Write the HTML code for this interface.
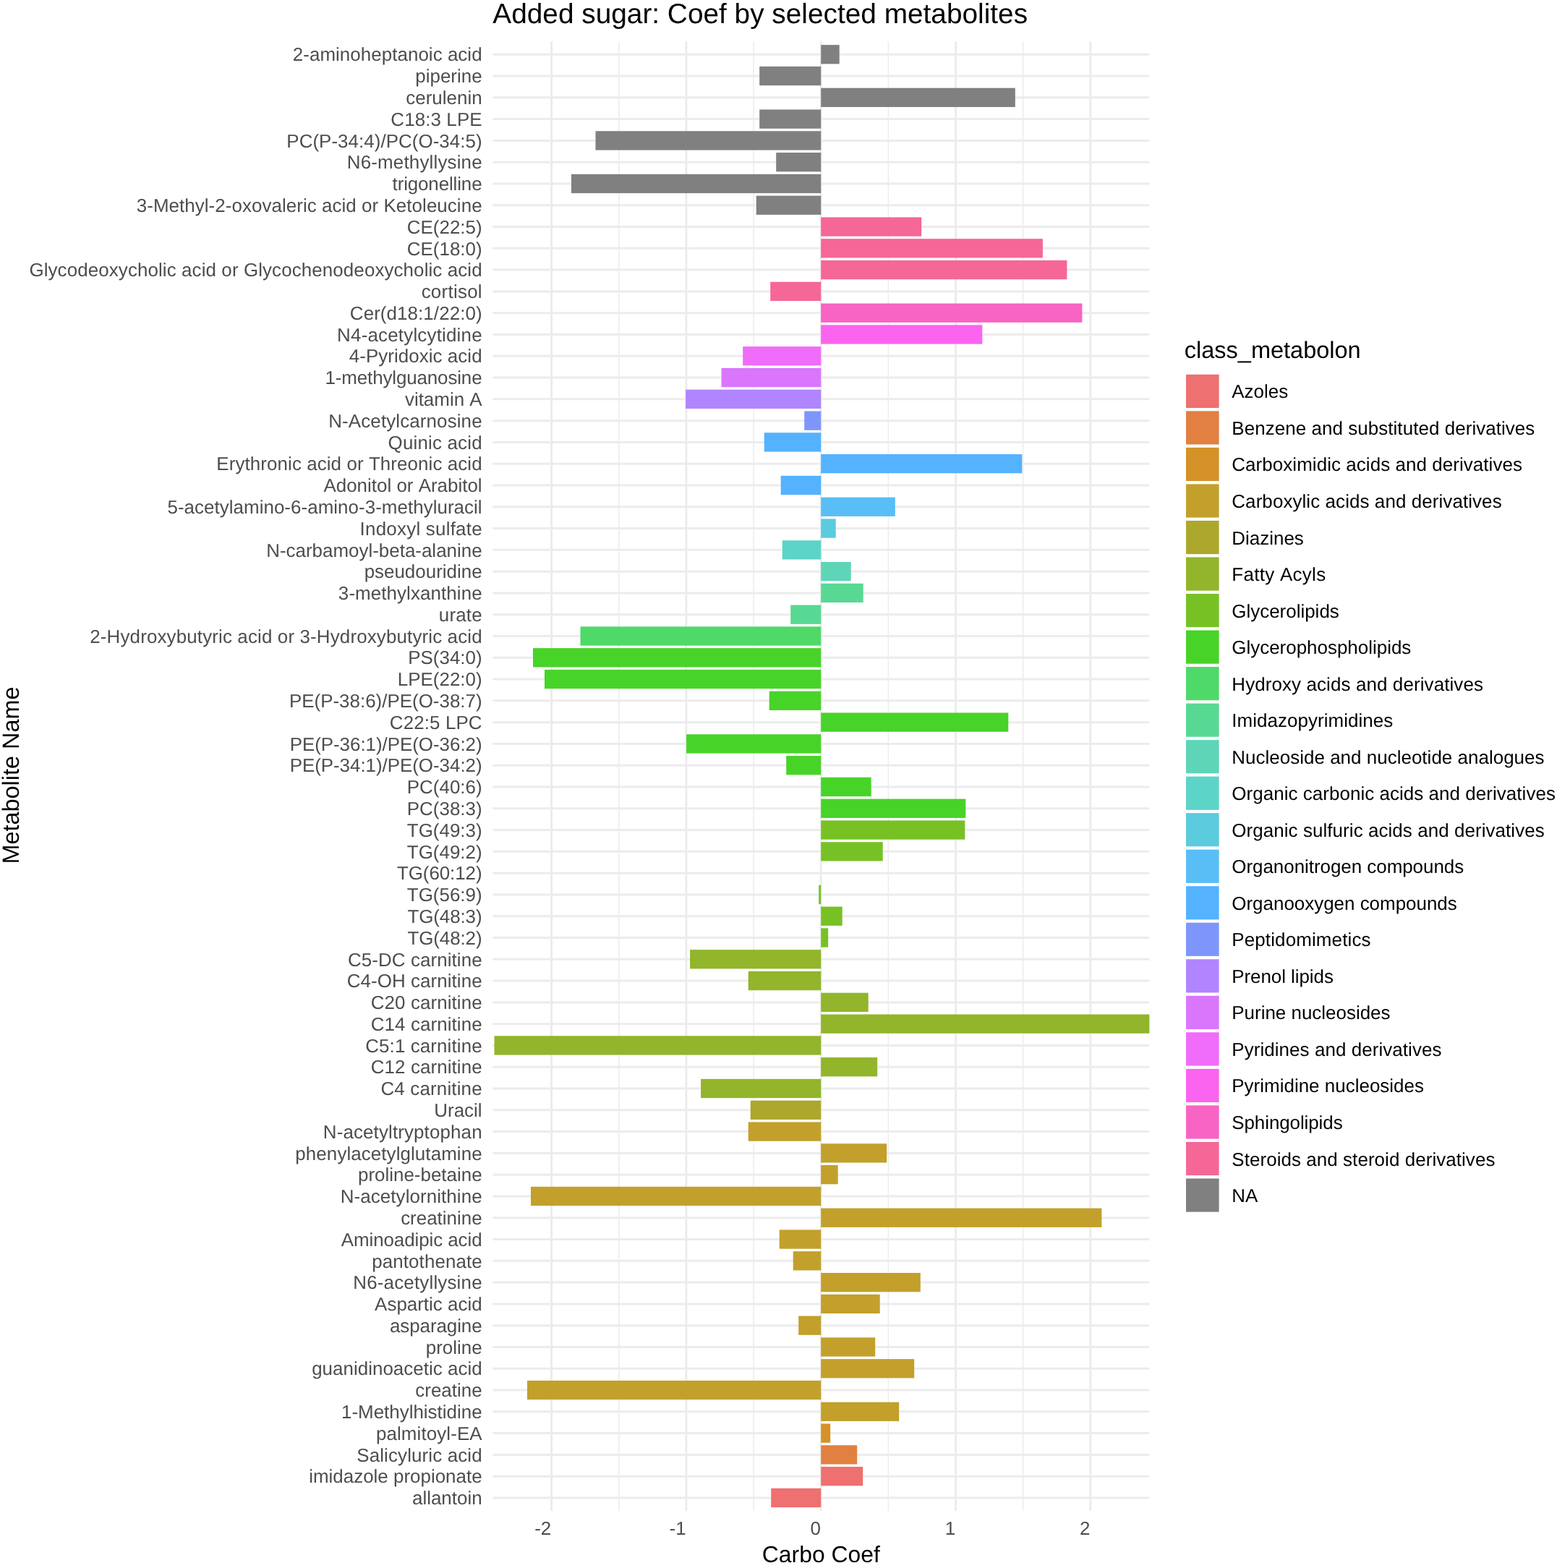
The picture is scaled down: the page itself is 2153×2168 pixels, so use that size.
<!DOCTYPE html>
<html lang="en"><head><meta charset="utf-8"><title>Added sugar: Coef by selected metabolites</title>
<style>html,body{margin:0;padding:0;background:#fff;width:2153px;height:2168px;overflow:hidden}svg{display:block}text{font-family:"Liberation Sans",Arial,Helvetica,sans-serif;font-kerning:none;text-rendering:geometricPrecision}.yl{font-size:25.95px;fill:#4D4D4D;text-anchor:end}.xl{font-size:25.95px;fill:#4D4D4D;text-anchor:end}.lg{font-size:25.95px;fill:#000}.at{font-size:32.3px;fill:#000;text-anchor:middle}.lt{font-size:32.3px;fill:#000}.tt{font-size:38.8px;fill:#000}</style></head><body>
<svg width="2153" height="2168" viewBox="0 0 2153 2168">
<rect width="2153" height="2168" fill="#fff"/>
<g stroke="#ECECEC" fill="none"><line x1="855.75" x2="855.75" y1="57.5" y2="2088.9" stroke-width="1.5"/><line x1="1042.05" x2="1042.05" y1="57.5" y2="2088.9" stroke-width="1.5"/><line x1="1228.35" x2="1228.35" y1="57.5" y2="2088.9" stroke-width="1.5"/><line x1="1414.65" x2="1414.65" y1="57.5" y2="2088.9" stroke-width="1.5"/><line x1="762.60" x2="762.60" y1="57.5" y2="2088.9" stroke-width="3.0"/><line x1="948.90" x2="948.90" y1="57.5" y2="2088.9" stroke-width="3.0"/><line x1="1135.20" x2="1135.20" y1="57.5" y2="2088.9" stroke-width="3.0"/><line x1="1321.50" x2="1321.50" y1="57.5" y2="2088.9" stroke-width="3.0"/><line x1="1507.80" x2="1507.80" y1="57.5" y2="2088.9" stroke-width="3.0"/><line x1="681.25" x2="1589.4" y1="75.25" y2="75.25" stroke-width="3.0"/><line x1="681.25" x2="1589.4" y1="105.04" y2="105.04" stroke-width="3.0"/><line x1="681.25" x2="1589.4" y1="134.82" y2="134.82" stroke-width="3.0"/><line x1="681.25" x2="1589.4" y1="164.61" y2="164.61" stroke-width="3.0"/><line x1="681.25" x2="1589.4" y1="194.40" y2="194.40" stroke-width="3.0"/><line x1="681.25" x2="1589.4" y1="224.19" y2="224.19" stroke-width="3.0"/><line x1="681.25" x2="1589.4" y1="253.97" y2="253.97" stroke-width="3.0"/><line x1="681.25" x2="1589.4" y1="283.76" y2="283.76" stroke-width="3.0"/><line x1="681.25" x2="1589.4" y1="313.55" y2="313.55" stroke-width="3.0"/><line x1="681.25" x2="1589.4" y1="343.33" y2="343.33" stroke-width="3.0"/><line x1="681.25" x2="1589.4" y1="373.12" y2="373.12" stroke-width="3.0"/><line x1="681.25" x2="1589.4" y1="402.91" y2="402.91" stroke-width="3.0"/><line x1="681.25" x2="1589.4" y1="432.69" y2="432.69" stroke-width="3.0"/><line x1="681.25" x2="1589.4" y1="462.48" y2="462.48" stroke-width="3.0"/><line x1="681.25" x2="1589.4" y1="492.27" y2="492.27" stroke-width="3.0"/><line x1="681.25" x2="1589.4" y1="522.06" y2="522.06" stroke-width="3.0"/><line x1="681.25" x2="1589.4" y1="551.84" y2="551.84" stroke-width="3.0"/><line x1="681.25" x2="1589.4" y1="581.63" y2="581.63" stroke-width="3.0"/><line x1="681.25" x2="1589.4" y1="611.42" y2="611.42" stroke-width="3.0"/><line x1="681.25" x2="1589.4" y1="641.20" y2="641.20" stroke-width="3.0"/><line x1="681.25" x2="1589.4" y1="670.99" y2="670.99" stroke-width="3.0"/><line x1="681.25" x2="1589.4" y1="700.78" y2="700.78" stroke-width="3.0"/><line x1="681.25" x2="1589.4" y1="730.56" y2="730.56" stroke-width="3.0"/><line x1="681.25" x2="1589.4" y1="760.35" y2="760.35" stroke-width="3.0"/><line x1="681.25" x2="1589.4" y1="790.14" y2="790.14" stroke-width="3.0"/><line x1="681.25" x2="1589.4" y1="819.92" y2="819.92" stroke-width="3.0"/><line x1="681.25" x2="1589.4" y1="849.71" y2="849.71" stroke-width="3.0"/><line x1="681.25" x2="1589.4" y1="879.50" y2="879.50" stroke-width="3.0"/><line x1="681.25" x2="1589.4" y1="909.29" y2="909.29" stroke-width="3.0"/><line x1="681.25" x2="1589.4" y1="939.07" y2="939.07" stroke-width="3.0"/><line x1="681.25" x2="1589.4" y1="968.86" y2="968.86" stroke-width="3.0"/><line x1="681.25" x2="1589.4" y1="998.65" y2="998.65" stroke-width="3.0"/><line x1="681.25" x2="1589.4" y1="1028.43" y2="1028.43" stroke-width="3.0"/><line x1="681.25" x2="1589.4" y1="1058.22" y2="1058.22" stroke-width="3.0"/><line x1="681.25" x2="1589.4" y1="1088.01" y2="1088.01" stroke-width="3.0"/><line x1="681.25" x2="1589.4" y1="1117.80" y2="1117.80" stroke-width="3.0"/><line x1="681.25" x2="1589.4" y1="1147.58" y2="1147.58" stroke-width="3.0"/><line x1="681.25" x2="1589.4" y1="1177.37" y2="1177.37" stroke-width="3.0"/><line x1="681.25" x2="1589.4" y1="1207.16" y2="1207.16" stroke-width="3.0"/><line x1="681.25" x2="1589.4" y1="1236.94" y2="1236.94" stroke-width="3.0"/><line x1="681.25" x2="1589.4" y1="1266.73" y2="1266.73" stroke-width="3.0"/><line x1="681.25" x2="1589.4" y1="1296.52" y2="1296.52" stroke-width="3.0"/><line x1="681.25" x2="1589.4" y1="1326.30" y2="1326.30" stroke-width="3.0"/><line x1="681.25" x2="1589.4" y1="1356.09" y2="1356.09" stroke-width="3.0"/><line x1="681.25" x2="1589.4" y1="1385.88" y2="1385.88" stroke-width="3.0"/><line x1="681.25" x2="1589.4" y1="1415.66" y2="1415.66" stroke-width="3.0"/><line x1="681.25" x2="1589.4" y1="1445.45" y2="1445.45" stroke-width="3.0"/><line x1="681.25" x2="1589.4" y1="1475.24" y2="1475.24" stroke-width="3.0"/><line x1="681.25" x2="1589.4" y1="1505.03" y2="1505.03" stroke-width="3.0"/><line x1="681.25" x2="1589.4" y1="1534.81" y2="1534.81" stroke-width="3.0"/><line x1="681.25" x2="1589.4" y1="1564.60" y2="1564.60" stroke-width="3.0"/><line x1="681.25" x2="1589.4" y1="1594.39" y2="1594.39" stroke-width="3.0"/><line x1="681.25" x2="1589.4" y1="1624.17" y2="1624.17" stroke-width="3.0"/><line x1="681.25" x2="1589.4" y1="1653.96" y2="1653.96" stroke-width="3.0"/><line x1="681.25" x2="1589.4" y1="1683.75" y2="1683.75" stroke-width="3.0"/><line x1="681.25" x2="1589.4" y1="1713.53" y2="1713.53" stroke-width="3.0"/><line x1="681.25" x2="1589.4" y1="1743.32" y2="1743.32" stroke-width="3.0"/><line x1="681.25" x2="1589.4" y1="1773.11" y2="1773.11" stroke-width="3.0"/><line x1="681.25" x2="1589.4" y1="1802.90" y2="1802.90" stroke-width="3.0"/><line x1="681.25" x2="1589.4" y1="1832.68" y2="1832.68" stroke-width="3.0"/><line x1="681.25" x2="1589.4" y1="1862.47" y2="1862.47" stroke-width="3.0"/><line x1="681.25" x2="1589.4" y1="1892.26" y2="1892.26" stroke-width="3.0"/><line x1="681.25" x2="1589.4" y1="1922.04" y2="1922.04" stroke-width="3.0"/><line x1="681.25" x2="1589.4" y1="1951.83" y2="1951.83" stroke-width="3.0"/><line x1="681.25" x2="1589.4" y1="1981.62" y2="1981.62" stroke-width="3.0"/><line x1="681.25" x2="1589.4" y1="2011.40" y2="2011.40" stroke-width="3.0"/><line x1="681.25" x2="1589.4" y1="2041.19" y2="2041.19" stroke-width="3.0"/><line x1="681.25" x2="1589.4" y1="2070.98" y2="2070.98" stroke-width="3.0"/></g>
<g><rect x="1135.20" y="62.10" width="25.50" height="26.3" fill="#808080"/><rect x="1050.20" y="91.89" width="85.00" height="26.3" fill="#808080"/><rect x="1135.20" y="121.67" width="268.60" height="26.3" fill="#808080"/><rect x="1050.20" y="151.46" width="85.00" height="26.3" fill="#808080"/><rect x="823.50" y="181.25" width="311.70" height="26.3" fill="#808080"/><rect x="1073.20" y="211.03" width="62.00" height="26.3" fill="#808080"/><rect x="790.00" y="240.82" width="345.20" height="26.3" fill="#808080"/><rect x="1045.70" y="270.61" width="89.50" height="26.3" fill="#808080"/><rect x="1135.20" y="300.40" width="139.00" height="26.3" fill="#F56796"/><rect x="1135.20" y="330.18" width="306.70" height="26.3" fill="#F56796"/><rect x="1135.20" y="359.97" width="340.20" height="26.3" fill="#F56796"/><rect x="1065.20" y="389.76" width="70.00" height="26.3" fill="#F56796"/><rect x="1135.20" y="419.54" width="361.20" height="26.3" fill="#F864C3"/><rect x="1135.20" y="449.33" width="223.10" height="26.3" fill="#FA64EE"/><rect x="1027.20" y="479.12" width="108.00" height="26.3" fill="#F06CFA"/><rect x="997.60" y="508.91" width="137.60" height="26.3" fill="#D976FC"/><rect x="948.10" y="538.69" width="187.10" height="26.3" fill="#B085FF"/><rect x="1112.20" y="568.48" width="23.00" height="26.3" fill="#7E96FC"/><rect x="1056.70" y="598.27" width="78.50" height="26.3" fill="#54B2FF"/><rect x="1135.20" y="628.05" width="278.10" height="26.3" fill="#54B2FF"/><rect x="1079.70" y="657.84" width="55.50" height="26.3" fill="#54B2FF"/><rect x="1135.20" y="687.63" width="102.60" height="26.3" fill="#58BEF5"/><rect x="1135.20" y="717.41" width="20.50" height="26.3" fill="#5BCBDE"/><rect x="1081.70" y="747.20" width="53.50" height="26.3" fill="#5DD4C8"/><rect x="1135.20" y="776.99" width="41.50" height="26.3" fill="#5FD5B8"/><rect x="1135.20" y="806.77" width="58.50" height="26.3" fill="#58D993"/><rect x="1093.20" y="836.56" width="42.00" height="26.3" fill="#58D993"/><rect x="802.50" y="866.35" width="332.70" height="26.3" fill="#4FD968"/><rect x="737.00" y="896.14" width="398.20" height="26.3" fill="#48D329"/><rect x="753.00" y="925.92" width="382.20" height="26.3" fill="#48D329"/><rect x="1063.70" y="955.71" width="71.50" height="26.3" fill="#48D329"/><rect x="1135.20" y="985.50" width="259.10" height="26.3" fill="#48D329"/><rect x="949.10" y="1015.28" width="186.10" height="26.3" fill="#48D329"/><rect x="1087.20" y="1045.07" width="48.00" height="26.3" fill="#48D329"/><rect x="1135.20" y="1074.86" width="69.50" height="26.3" fill="#48D329"/><rect x="1135.20" y="1104.64" width="200.10" height="26.3" fill="#48D329"/><rect x="1135.20" y="1134.43" width="199.10" height="26.3" fill="#77C125"/><rect x="1135.20" y="1164.22" width="85.50" height="26.3" fill="#77C125"/><rect x="1132.20" y="1223.79" width="3.00" height="26.3" fill="#77C125"/><rect x="1135.20" y="1253.58" width="29.50" height="26.3" fill="#77C125"/><rect x="1135.20" y="1283.37" width="10.00" height="26.3" fill="#77C125"/><rect x="954.10" y="1313.15" width="181.10" height="26.3" fill="#92B52C"/><rect x="1034.70" y="1342.94" width="100.50" height="26.3" fill="#92B52C"/><rect x="1135.20" y="1372.73" width="65.50" height="26.3" fill="#92B52C"/><rect x="1135.20" y="1402.51" width="454.20" height="26.3" fill="#92B52C"/><rect x="683.50" y="1432.30" width="451.70" height="26.3" fill="#92B52C"/><rect x="1135.20" y="1462.09" width="78.00" height="26.3" fill="#92B52C"/><rect x="969.10" y="1491.88" width="166.10" height="26.3" fill="#92B52C"/><rect x="1037.70" y="1521.66" width="97.50" height="26.3" fill="#ACA82D"/><rect x="1034.70" y="1551.45" width="100.50" height="26.3" fill="#C2A02B"/><rect x="1135.20" y="1581.24" width="91.00" height="26.3" fill="#C2A02B"/><rect x="1135.20" y="1611.02" width="23.50" height="26.3" fill="#C2A02B"/><rect x="734.00" y="1640.81" width="401.20" height="26.3" fill="#C2A02B"/><rect x="1135.20" y="1670.60" width="388.20" height="26.3" fill="#C2A02B"/><rect x="1077.70" y="1700.38" width="57.50" height="26.3" fill="#C2A02B"/><rect x="1096.70" y="1730.17" width="38.50" height="26.3" fill="#C2A02B"/><rect x="1135.20" y="1759.96" width="137.60" height="26.3" fill="#C2A02B"/><rect x="1135.20" y="1789.75" width="81.50" height="26.3" fill="#C2A02B"/><rect x="1104.20" y="1819.53" width="31.00" height="26.3" fill="#C2A02B"/><rect x="1135.20" y="1849.32" width="75.00" height="26.3" fill="#C2A02B"/><rect x="1135.20" y="1879.11" width="129.00" height="26.3" fill="#C2A02B"/><rect x="729.00" y="1908.89" width="406.20" height="26.3" fill="#C2A02B"/><rect x="1135.20" y="1938.68" width="108.00" height="26.3" fill="#C2A02B"/><rect x="1135.20" y="1968.47" width="13.00" height="26.3" fill="#D49228"/><rect x="1135.20" y="1998.25" width="50.00" height="26.3" fill="#E28042"/><rect x="1135.20" y="2028.04" width="58.00" height="26.3" fill="#EE7070"/><rect x="1066.20" y="2057.83" width="69.00" height="26.3" fill="#EE7070"/></g>
<g><text class="yl" x="666.6" y="84.45" textLength="261.78" lengthAdjust="spacing">2-aminoheptanoic acid</text><text class="yl" x="666.6" y="114.24">piperine</text><text class="yl" x="666.6" y="144.02">cerulenin</text><text class="yl" x="666.6" y="173.81" textLength="126.25" lengthAdjust="spacing">C18:3 LPE</text><text class="yl" x="666.6" y="203.60" textLength="270.25" lengthAdjust="spacing">PC(P-34:4)/PC(O-34:5)</text><text class="yl" x="666.6" y="233.38" textLength="186.82" lengthAdjust="spacing">N6-methyllysine</text><text class="yl" x="666.6" y="263.17" textLength="124.05" lengthAdjust="spacing">trigonelline</text><text class="yl" x="666.6" y="292.96" textLength="477.85" lengthAdjust="spacing">3-Methyl-2-oxovaleric acid or Ketoleucine</text><text class="yl" x="666.6" y="322.75">CE(22:5)</text><text class="yl" x="666.6" y="352.53">CE(18:0)</text><text class="yl" x="666.6" y="382.32" textLength="626.17" lengthAdjust="spacing">Glycodeoxycholic acid or Glycochenodeoxycholic acid</text><text class="yl" x="666.6" y="412.11" textLength="83.97" lengthAdjust="spacing">cortisol</text><text class="yl" x="666.6" y="441.89" textLength="182.77" lengthAdjust="spacing">Cer(d18:1/22:0)</text><text class="yl" x="666.6" y="471.68" textLength="200.50" lengthAdjust="spacing">N4-acetylcytidine</text><text class="yl" x="666.6" y="501.47" textLength="183.88" lengthAdjust="spacing">4-Pyridoxic acid</text><text class="yl" x="666.6" y="531.26" textLength="217.07" lengthAdjust="spacing">1-methylguanosine</text><text class="yl" x="666.6" y="561.04">vitamin A</text><text class="yl" x="666.6" y="590.83" textLength="212.37" lengthAdjust="spacing">N-Acetylcarnosine</text><text class="yl" x="666.6" y="620.62" textLength="130.01" lengthAdjust="spacing">Quinic acid</text><text class="yl" x="666.6" y="650.40" textLength="367.23" lengthAdjust="spacing">Erythronic acid or Threonic acid</text><text class="yl" x="666.6" y="680.19">Adonitol or Arabitol</text><text class="yl" x="666.6" y="709.98" textLength="435.19" lengthAdjust="spacing">5-acetylamino-6-amino-3-methyluracil</text><text class="yl" x="666.6" y="739.76" textLength="169.01" lengthAdjust="spacing">Indoxyl sulfate</text><text class="yl" x="666.6" y="769.55">N-carbamoyl-beta-alanine</text><text class="yl" x="666.6" y="799.34">pseudouridine</text><text class="yl" x="666.6" y="829.12" textLength="198.73" lengthAdjust="spacing">3-methylxanthine</text><text class="yl" x="666.6" y="858.91" textLength="59.73" lengthAdjust="spacing">urate</text><text class="yl" x="666.6" y="888.70" textLength="542.32" lengthAdjust="spacing">2-Hydroxybutyric acid or 3-Hydroxybutyric acid</text><text class="yl" x="666.6" y="918.49">PS(34:0)</text><text class="yl" x="666.6" y="948.27">LPE(22:0)</text><text class="yl" x="666.6" y="978.06">PE(P-38:6)/PE(O-38:7)</text><text class="yl" x="666.6" y="1007.85" textLength="127.79" lengthAdjust="spacing">C22:5 LPC</text><text class="yl" x="666.6" y="1037.63" textLength="265.97" lengthAdjust="spacing">PE(P-36:1)/PE(O-36:2)</text><text class="yl" x="666.6" y="1067.42" textLength="265.97" lengthAdjust="spacing">PE(P-34:1)/PE(O-34:2)</text><text class="yl" x="666.6" y="1097.21">PC(40:6)</text><text class="yl" x="666.6" y="1127.00">PC(38:3)</text><text class="yl" x="666.6" y="1156.78">TG(49:3)</text><text class="yl" x="666.6" y="1186.57">TG(49:2)</text><text class="yl" x="666.6" y="1216.36" textLength="117.60" lengthAdjust="spacing">TG(60:12)</text><text class="yl" x="666.6" y="1246.14">TG(56:9)</text><text class="yl" x="666.6" y="1275.93" textLength="103.18" lengthAdjust="spacing">TG(48:3)</text><text class="yl" x="666.6" y="1305.72" textLength="103.18" lengthAdjust="spacing">TG(48:2)</text><text class="yl" x="666.6" y="1335.50" textLength="185.62" lengthAdjust="spacing">C5-DC carnitine</text><text class="yl" x="666.6" y="1365.29" textLength="186.95" lengthAdjust="spacing">C4-OH carnitine</text><text class="yl" x="666.6" y="1395.08" textLength="153.83" lengthAdjust="spacing">C20 carnitine</text><text class="yl" x="666.6" y="1424.87" textLength="153.83" lengthAdjust="spacing">C14 carnitine</text><text class="yl" x="666.6" y="1454.65" textLength="161.35" lengthAdjust="spacing">C5:1 carnitine</text><text class="yl" x="666.6" y="1484.44" textLength="153.83" lengthAdjust="spacing">C12 carnitine</text><text class="yl" x="666.6" y="1514.23" textLength="140.11" lengthAdjust="spacing">C4 carnitine</text><text class="yl" x="666.6" y="1544.01">Uracil</text><text class="yl" x="666.6" y="1573.80" textLength="219.80" lengthAdjust="spacing">N-acetyltryptophan</text><text class="yl" x="666.6" y="1603.59" textLength="258.26" lengthAdjust="spacing">phenylacetylglutamine</text><text class="yl" x="666.6" y="1633.37">proline-betaine</text><text class="yl" x="666.6" y="1663.16" textLength="195.82" lengthAdjust="spacing">N-acetylornithine</text><text class="yl" x="666.6" y="1692.95">creatinine</text><text class="yl" x="666.6" y="1722.73" textLength="194.88" lengthAdjust="spacing">Aminoadipic acid</text><text class="yl" x="666.6" y="1752.52" textLength="152.25" lengthAdjust="spacing">pantothenate</text><text class="yl" x="666.6" y="1782.31" textLength="178.38" lengthAdjust="spacing">N6-acetyllysine</text><text class="yl" x="666.6" y="1812.10">Aspartic acid</text><text class="yl" x="666.6" y="1841.88" textLength="127.66" lengthAdjust="spacing">asparagine</text><text class="yl" x="666.6" y="1871.67">proline</text><text class="yl" x="666.6" y="1901.46" textLength="235.45" lengthAdjust="spacing">guanidinoacetic acid</text><text class="yl" x="666.6" y="1931.24">creatine</text><text class="yl" x="666.6" y="1961.03">1-Methylhistidine</text><text class="yl" x="666.6" y="1990.82" textLength="146.69" lengthAdjust="spacing">palmitoyl-EA</text><text class="yl" x="666.6" y="2020.61" textLength="173.35" lengthAdjust="spacing">Salicyluric acid</text><text class="yl" x="666.6" y="2050.39">imidazole propionate</text><text class="yl" x="666.6" y="2080.18">allantoin</text></g>
<g><text class="xl" x="762.30" y="2122.3">-2</text><text class="xl" x="948.60" y="2122.3">-1</text><text class="xl" x="1134.90" y="2122.3">0</text><text class="xl" x="1321.20" y="2122.3">1</text><text class="xl" x="1507.50" y="2122.3">2</text></g>
<text class="tt" x="681.3" y="32.3">Added sugar: Coef by selected metabolites</text>
<text class="at" x="1135.33" y="2159.9" style="font-size:31.9px">Carbo Coef</text>
<text class="at" transform="translate(25.9 1072.00) rotate(-90)" style="font-size:32.45px">Metabolite Name</text>
<text class="lt" x="1637.8" y="495.4" style="font-size:32.5px">class_metabolon</text>
<g><rect x="1640" y="517.80" width="45.6" height="46.2" fill="#EE7070"/><text class="lg" x="1703.3" y="550.40" textLength="77.86" lengthAdjust="spacing">Azoles</text><rect x="1640" y="568.33" width="45.6" height="46.2" fill="#E28042"/><text class="lg" x="1703.3" y="600.93" textLength="419.02" lengthAdjust="spacing">Benzene and substituted derivatives</text><rect x="1640" y="618.86" width="45.6" height="46.2" fill="#D49228"/><text class="lg" x="1703.3" y="651.46" textLength="401.63" lengthAdjust="spacing">Carboximidic acids and derivatives</text><rect x="1640" y="669.39" width="45.6" height="46.2" fill="#C2A02B"/><text class="lg" x="1703.3" y="701.99" textLength="373.30" lengthAdjust="spacing">Carboxylic acids and derivatives</text><rect x="1640" y="719.92" width="45.6" height="46.2" fill="#ACA82D"/><text class="lg" x="1703.3" y="752.52" textLength="99.48" lengthAdjust="spacing">Diazines</text><rect x="1640" y="770.45" width="45.6" height="46.2" fill="#92B52C"/><text class="lg" x="1703.3" y="803.05" textLength="129.83" lengthAdjust="spacing">Fatty Acyls</text><rect x="1640" y="820.98" width="45.6" height="46.2" fill="#77C125"/><text class="lg" x="1703.3" y="853.58" textLength="148.48" lengthAdjust="spacing">Glycerolipids</text><rect x="1640" y="871.51" width="45.6" height="46.2" fill="#48D329"/><text class="lg" x="1703.3" y="904.11" textLength="248.00" lengthAdjust="spacing">Glycerophospholipids</text><rect x="1640" y="922.04" width="45.6" height="46.2" fill="#4FD968"/><text class="lg" x="1703.3" y="954.64" textLength="347.65" lengthAdjust="spacing">Hydroxy acids and derivatives</text><rect x="1640" y="972.57" width="45.6" height="46.2" fill="#58D993"/><text class="lg" x="1703.3" y="1005.17" textLength="223.00" lengthAdjust="spacing">Imidazopyrimidines</text><rect x="1640" y="1023.10" width="45.6" height="46.2" fill="#5FD5B8"/><text class="lg" x="1703.3" y="1055.70" textLength="432.19" lengthAdjust="spacing">Nucleoside and nucleotide analogues</text><rect x="1640" y="1073.63" width="45.6" height="46.2" fill="#5DD4C8"/><text class="lg" x="1703.3" y="1106.23" textLength="447.58" lengthAdjust="spacing">Organic carbonic acids and derivatives</text><rect x="1640" y="1124.16" width="45.6" height="46.2" fill="#5BCBDE"/><text class="lg" x="1703.3" y="1156.76" textLength="432.41" lengthAdjust="spacing">Organic sulfuric acids and derivatives</text><rect x="1640" y="1174.69" width="45.6" height="46.2" fill="#58BEF5"/><text class="lg" x="1703.3" y="1207.29" textLength="320.85" lengthAdjust="spacing">Organonitrogen compounds</text><rect x="1640" y="1225.22" width="45.6" height="46.2" fill="#54B2FF"/><text class="lg" x="1703.3" y="1257.82" textLength="311.45" lengthAdjust="spacing">Organooxygen compounds</text><rect x="1640" y="1275.75" width="45.6" height="46.2" fill="#7E96FC"/><text class="lg" x="1703.3" y="1308.35" textLength="192.18" lengthAdjust="spacing">Peptidomimetics</text><rect x="1640" y="1326.28" width="45.6" height="46.2" fill="#B085FF"/><text class="lg" x="1703.3" y="1358.88" textLength="140.60" lengthAdjust="spacing">Prenol lipids</text><rect x="1640" y="1376.81" width="45.6" height="46.2" fill="#D976FC"/><text class="lg" x="1703.3" y="1409.41" textLength="219.17" lengthAdjust="spacing">Purine nucleosides</text><rect x="1640" y="1427.34" width="45.6" height="46.2" fill="#F06CFA"/><text class="lg" x="1703.3" y="1459.94" textLength="290.14" lengthAdjust="spacing">Pyridines and derivatives</text><rect x="1640" y="1477.87" width="45.6" height="46.2" fill="#FA64EE"/><text class="lg" x="1703.3" y="1510.47" textLength="265.67" lengthAdjust="spacing">Pyrimidine nucleosides</text><rect x="1640" y="1528.40" width="45.6" height="46.2" fill="#F864C3"/><text class="lg" x="1703.3" y="1561.00" textLength="153.30" lengthAdjust="spacing">Sphingolipids</text><rect x="1640" y="1578.93" width="45.6" height="46.2" fill="#F56796"/><text class="lg" x="1703.3" y="1611.53" textLength="364.07" lengthAdjust="spacing">Steroids and steroid derivatives</text><rect x="1640" y="1629.46" width="45.6" height="46.2" fill="#808080"/><text class="lg" x="1703.3" y="1662.06" textLength="36.05" lengthAdjust="spacing">NA</text></g>
</svg></body></html>
